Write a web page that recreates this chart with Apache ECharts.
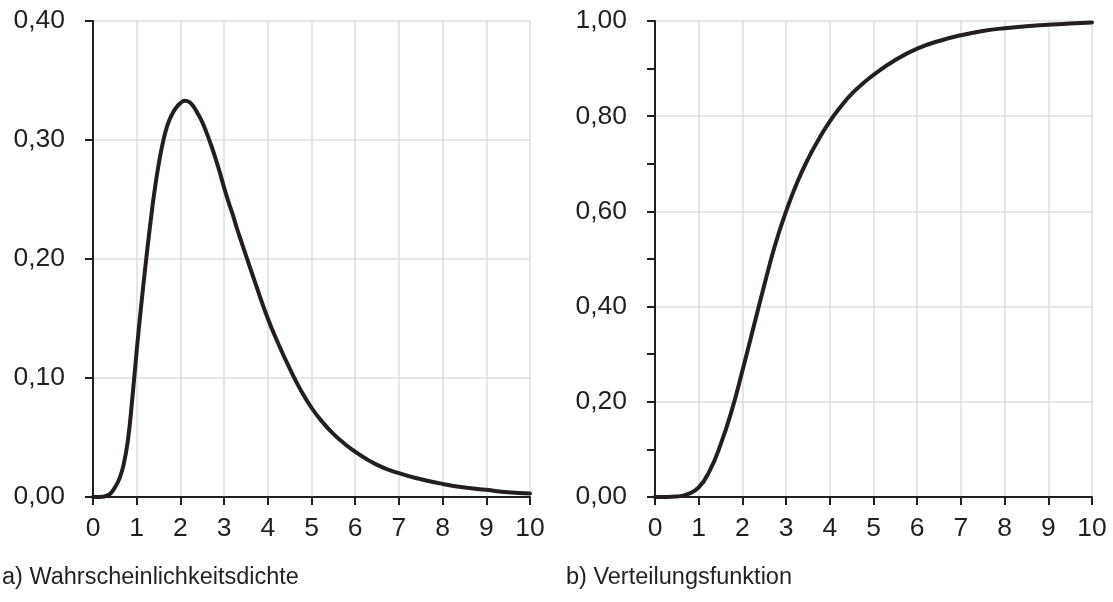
<!DOCTYPE html>
<html>
<head>
<meta charset="utf-8">
<script src="https://cdn.jsdelivr.net/npm/echarts@6/dist/echarts.min.js"></script>
<style>
  html, body { margin: 0; padding: 0; background: #ffffff; }
  #chart { width: 1113px; height: 602px; }
</style>
</head>
<body>
<div id="chart"></div>
<script>
// Probability density f(x) — sample positions and values
const densityX = [0, 0.1, 0.2, 0.3, 0.4, 0.5, 0.6, 0.7, 0.8, 0.9, 1.0, 1.1, 1.2, 1.3, 1.4, 1.5, 1.6, 1.7, 1.8, 1.9,
                  2.0, 2.1, 2.2, 2.3, 2.4, 2.5, 2.6, 2.7, 2.8, 2.9, 3.0, 3.1, 3.2, 3.3, 3.4, 3.5,
                  3.75, 4.0, 4.25, 4.5, 4.75, 5.0, 5.25, 5.5, 5.75, 6.0,
                  6.5, 7.0, 7.5, 8.0, 8.5, 9.0, 9.5, 10.0];
const densityY = [0, 0, 0.0002, 0.001, 0.003, 0.008, 0.015, 0.027, 0.048, 0.083, 0.123, 0.160, 0.194, 0.226, 0.255, 0.279, 0.298, 0.312, 0.321, 0.327,
                  0.331, 0.333, 0.332, 0.328, 0.322, 0.315, 0.306, 0.296, 0.285, 0.273, 0.260, 0.248, 0.237, 0.225, 0.214, 0.203,
                  0.176, 0.150, 0.128, 0.108, 0.090, 0.075, 0.063, 0.053, 0.045, 0.038,
                  0.027, 0.020, 0.015, 0.011, 0.008, 0.006, 0.004, 0.003];

// Cumulative distribution F(x)
const cdfX = [0, 0.25, 0.5, 0.75, 1.0, 1.25, 1.5, 1.75, 2.0, 2.25, 2.5, 2.75, 3.0, 3.25, 3.5, 3.75,
              4.0, 4.25, 4.5, 4.75, 5.0, 5.5, 6.0, 6.5, 7.0, 7.5, 8.0, 8.5, 9.0, 9.5, 10.0];
const cdfY = [0, 0, 0.001, 0.006, 0.02, 0.055, 0.11, 0.18, 0.265, 0.355, 0.445, 0.53, 0.60, 0.66, 0.71, 0.752,
              0.789, 0.82, 0.847, 0.868, 0.887, 0.918, 0.942, 0.958, 0.970, 0.979, 0.985, 0.989, 0.992, 0.995, 0.997];

const captions = ['a) Wahrscheinlichkeitsdichte', 'b) Verteilungsfunktion'];

const ink = '#231f20';
const gridGray = '#dedede';
const font = '"Liberation Sans", Arial, Helvetica, sans-serif';

const pairs = (xs, ys) => xs.map((x, i) => [x, ys[i]]);
const comma = v => v.toFixed(2).replace('.', ',');

function xAxis(gridIndex) {
  return {
    type: 'value', gridIndex, min: 0, max: 10, interval: 1,
    axisLine: { show: true, onZero: false, lineStyle: { color: ink, width: 2 } },
    axisTick: { show: true, length: 8, lineStyle: { color: ink, width: 2 } },
    axisLabel: { color: ink, fontSize: 26.5, fontFamily: font, margin: 18,
                 formatter: v => String(Math.round(v)) },
    splitLine: { show: true, lineStyle: { color: gridGray, width: 1.5 } }
  };
}

function yAxis(gridIndex, max, interval, minor) {
  return {
    type: 'value', gridIndex, min: 0, max, interval,
    axisLine: { show: true, onZero: false, lineStyle: { color: ink, width: 2 } },
    axisTick: { show: true, length: 8, lineStyle: { color: ink, width: 2 } },
    minorTick: { show: minor, splitNumber: 2, length: 8, lineStyle: { color: ink, width: 2 } },
    minorSplitLine: { show: false },
    axisLabel: { color: ink, fontSize: 26.5, fontFamily: font, margin: 28, formatter: comma },
    splitLine: { show: true, lineStyle: { color: gridGray, width: 1.5 } }
  };
}

function curve(name, idx, data) {
  return {
    name, type: 'line', xAxisIndex: idx, yAxisIndex: idx,
    data, smooth: 0.5, showSymbol: false, silent: true, z: 5,
    lineStyle: { color: ink, width: 4, cap: 'round', join: 'round' }
  };
}

const chart = echarts.init(document.getElementById('chart'), null, { renderer: 'canvas' });
chart.setOption({
  backgroundColor: '#ffffff',
  animation: false,
  title: [
    { text: captions[0], left: 2, top: 566, padding: 0,
      textStyle: { color: ink, fontSize: 23.5, fontWeight: 'normal', fontFamily: font } },
    { text: captions[1], left: 566, top: 566, padding: 0,
      textStyle: { color: ink, fontSize: 23.5, fontWeight: 'normal', fontFamily: font } }
  ],
  grid: [
    { left: 93, top: 21, width: 437, height: 476 },
    { left: 655, top: 21, width: 437, height: 476 }
  ],
  xAxis: [xAxis(0), xAxis(1)],
  yAxis: [yAxis(0, 0.4, 0.1, false), yAxis(1, 1.0, 0.2, true)],
  series: [
    curve('f(x)', 0, pairs(densityX, densityY)),
    curve('F(x)', 1, pairs(cdfX, cdfY))
  ]
});
</script>
</body>
</html>
